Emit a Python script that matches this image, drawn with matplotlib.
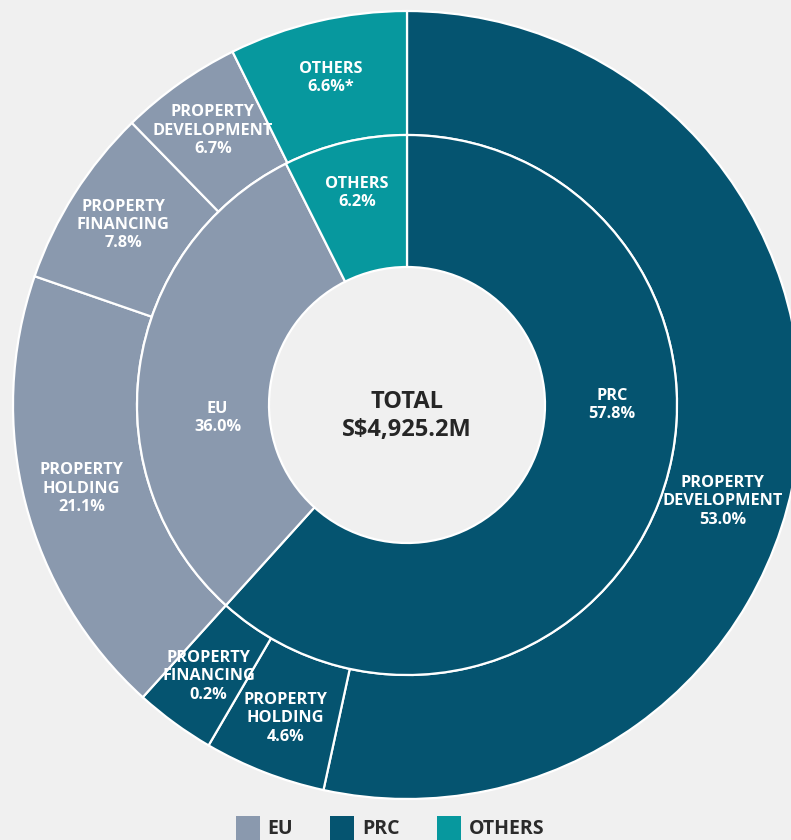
import matplotlib.pyplot as plt
from matplotlib.patches import Patch
import numpy as np

# inner ring (region)
inner_names = ["PRC", "EU", "OTHERS"]
inner_pct = [57.8, 36.0, 6.2]
inner_shown = [61.7, 30.9, 7.4]   # wedge share as drawn in the original

# outer ring (region / segment)
outer_names = ["PROPERTY\nDEVELOPMENT", "PROPERTY\nHOLDING", "PROPERTY\nFINANCING",
               "PROPERTY\nHOLDING", "PROPERTY\nFINANCING", "PROPERTY\nDEVELOPMENT",
               "OTHERS"]
outer_pct = [53.0, 4.6, 0.2, 21.1, 7.8, 6.7, 6.6]
outer_suffix = ["", "", "", "", "", "", "*"]
outer_shown = [53.4, 5.0, 3.3, 18.6, 7.4, 5.0, 7.3]
outer_region = ["PRC", "PRC", "PRC", "EU", "EU", "EU", "OTHERS"]

legend_names = ["EU", "PRC", "OTHERS"]
total_text = "TOTAL\nS$4,925.2M"

colors = {"EU": "#8a99ae", "PRC": "#055470", "OTHERS": "#07989e"}

plt.rcParams['font.family'] = ['Open Sans', 'DejaVu Sans']

fig = plt.figure(figsize=(7.91, 8.40), dpi=100)
fig.patch.set_facecolor('#f0f0f0')
ax = fig.add_axes([0, 0, 1, 1])
ax.set_facecolor('#f0f0f0')

center = (407, 435)
r_out, r_mid, r_hole = 394, 270, 138

edge = dict(edgecolor='white', linewidth=1.6)
outer_wedges, _ = ax.pie(outer_shown, radius=r_out, center=center, startangle=90,
                         counterclock=False,
                         colors=[colors[r] for r in outer_region],
                         wedgeprops=dict(width=r_out - r_mid, **edge))
inner_wedges, _ = ax.pie(inner_shown, radius=r_mid, center=center, startangle=90,
                         counterclock=False,
                         colors=[colors[n] for n in inner_names],
                         wedgeprops=dict(width=r_mid - r_hole, **edge))

ax.set_xlim(0, 791)
ax.set_ylim(0, 840)
ax.set_aspect('equal')
ax.axis('off')

# label placement: middle of wedge, a few moved like in the original
outer_angle_fix = {0: -17}
inner_angle_fix = {0: 0, 1: 184}
outer_r = {0: 330}
inner_r = {1: 190, 2: 218}


def put_label(w, txt, ang_fix, rad):
    ang = ang_fix if ang_fix is not None else (w.theta1 + w.theta2) / 2
    x = center[0] + rad * np.cos(np.radians(ang))
    y = center[1] + rad * np.sin(np.radians(ang))
    ax.text(x, y, txt, ha='center', va='center', color='white', fontsize=11.7,
            fontweight='bold', linespacing=1.2)


for i, w in enumerate(outer_wedges):
    txt = "%s\n%.1f%%%s" % (outer_names[i], outer_pct[i], outer_suffix[i])
    put_label(w, txt, outer_angle_fix.get(i), outer_r.get(i, 336))

for i, w in enumerate(inner_wedges):
    txt = "%s\n%.1f%%" % (inner_names[i], inner_pct[i])
    put_label(w, txt, inner_angle_fix.get(i), inner_r.get(i, 205))

ax.text(center[0], center[1] - 11, total_text, ha='center', va='center',
        color='#262626', fontsize=17, fontweight='bold', linespacing=1.25)

handles = [Patch(facecolor=colors[n], edgecolor='none') for n in legend_names]
leg = fig.legend(handles, legend_names, ncol=3, loc='center', bbox_to_anchor=(0.493, 12 / 840),
                 frameon=False, handlelength=1.25, handleheight=1.55, handletextpad=0.4,
                 columnspacing=1.9, borderpad=0.1,
                 prop={'family': 'Open Sans', 'weight': 'bold', 'size': 14})
for t in leg.get_texts():
    t.set_color('#2b2b2b')

fig.savefig("out.png", dpi=100, facecolor=fig.get_facecolor())
